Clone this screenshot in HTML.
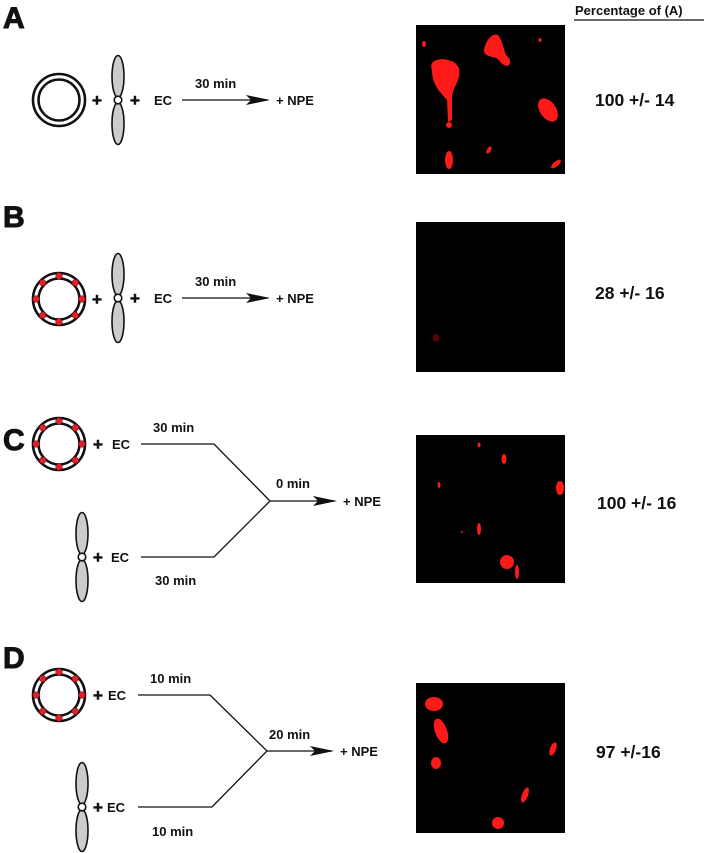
<!DOCTYPE html>
<html><head><meta charset="utf-8"><style>
html,body{margin:0;padding:0;background:#fff;}
svg{display:block;}
text{font-family:"Liberation Sans",Arial,sans-serif;font-weight:bold;fill:#111;}
.big{stroke:#111;stroke-width:1;}
.pl{stroke:#111;stroke-width:0.6;}
</style></head><body>
<svg width="705" height="853" viewBox="0 0 705 853" xmlns="http://www.w3.org/2000/svg">
<defs>
<g id="ring"><circle r="26" fill="none" stroke="#111" stroke-width="2.6"/><circle r="20.5" fill="none" stroke="#111" stroke-width="2.6"/></g>
<g id="ringd"><use href="#ring"/>
<g fill="#e0202a" stroke="#700" stroke-width="0.5">
<circle cx="0" cy="-23" r="3.3"/><circle cx="16.3" cy="-16.3" r="3.3"/><circle cx="23" cy="0" r="3.3"/><circle cx="16.3" cy="16.3" r="3.3"/>
<circle cx="0" cy="23" r="3.3"/><circle cx="-16.3" cy="16.3" r="3.3"/><circle cx="-23" cy="0" r="3.3"/><circle cx="-16.3" cy="-16.3" r="3.3"/></g></g>
<g id="prop"><ellipse cx="0" cy="-23.5" rx="6" ry="21" fill="#ccc" stroke="#111" stroke-width="1.6"/>
<ellipse cx="0" cy="23.5" rx="6" ry="21" fill="#ccc" stroke="#111" stroke-width="1.6"/>
<circle r="3.8" fill="#fff" stroke="#111" stroke-width="1.6"/></g>
<marker id="ah" markerWidth="24" markerHeight="10" refX="22" refY="5" orient="auto" markerUnits="userSpaceOnUse"><path d="M0,0 L24,5 L0,10 L5,5 Z" fill="#111"/></marker>
</defs>

<text x="575" y="15" font-size="13">Percentage of (A)</text>
<line x1="574" y1="20" x2="704" y2="20" stroke="#111" stroke-width="1.2"/>

<!-- A -->
<text class="big" x="3" y="28" font-size="30">A</text>
<use href="#ring" x="59" y="100"/>
<text class="pl" x="92" y="106" font-size="17">+</text>
<use href="#prop" x="118" y="100"/>
<text class="pl" x="130" y="106" font-size="17">+</text>
<text x="154" y="105" font-size="13">EC</text>
<line x1="182" y1="100" x2="268" y2="100" stroke="#111" stroke-width="1.3" marker-end="url(#ah)"/>
<text x="195" y="88" font-size="13">30 min</text>
<text x="276" y="105" font-size="13">+ NPE</text>
<rect x="416" y="25" width="149" height="149" fill="#000"/>
<g fill="#ff1a1a">
<path d="M432,70 C428,60 440,58 448,60 C458,62 462,70 458,80 C455,88 452,90 452,100 L452,120 L448,122 L447,100 C440,92 432,85 432,70 Z"/>
<ellipse cx="424" cy="44" rx="2" ry="3"/>
<path d="M484,50 C486,40 492,33 498,35 C502,40 504,50 506,55 C510,58 512,62 508,66 C502,66 500,60 496,58 C490,56 484,56 484,50 Z"/>
<ellipse cx="540" cy="40" rx="1.5" ry="2"/>
<ellipse cx="548" cy="110" rx="8" ry="13" transform="rotate(-35 548 110)"/><ellipse cx="449" cy="160" rx="4" ry="9"/>
<ellipse cx="489" cy="150" rx="2" ry="4" transform="rotate(30 489 150)"/><ellipse cx="556" cy="164" rx="2.5" ry="6" transform="rotate(50 556 164)"/><ellipse cx="449" cy="125" rx="3" ry="3"/>
</g>
<text x="595" y="106" font-size="17.5">100 +/- 14</text>

<!-- B -->
<text class="big" x="3" y="227" font-size="30">B</text>
<use href="#ringd" x="59" y="299"/>
<text class="pl" x="92" y="305" font-size="17">+</text>
<use href="#prop" x="118" y="298"/>
<text class="pl" x="130" y="304" font-size="17">+</text>
<text x="154" y="303" font-size="13">EC</text>
<line x1="182" y1="298" x2="268" y2="298" stroke="#111" stroke-width="1.3" marker-end="url(#ah)"/>
<text x="195" y="286" font-size="13">30 min</text>
<text x="276" y="303" font-size="13">+ NPE</text>
<rect x="416" y="222" width="149" height="150" fill="#000"/>
<ellipse cx="436" cy="338" rx="3" ry="4" fill="#5a0000"/>
<text x="595" y="299" font-size="17.5">28 +/- 16</text>

<!-- C -->
<text class="big" x="3" y="450" font-size="30">C</text>
<use href="#ringd" x="59" y="444"/>
<text class="pl" x="93" y="450" font-size="17">+</text>
<text x="112" y="449" font-size="13">EC</text>
<use href="#prop" x="82" y="557"/>
<text class="pl" x="93" y="563" font-size="17">+</text>
<text x="111" y="562" font-size="13">EC</text>
<polyline points="141,444 214,444 270,501 214,557 141,557" fill="none" stroke="#111" stroke-width="1.3"/>
<line x1="270" y1="501" x2="335" y2="501" stroke="#111" stroke-width="1.3" marker-end="url(#ah)"/>
<text x="153" y="432" font-size="13">30 min</text>
<text x="276" y="488" font-size="13">0 min</text>
<text x="155" y="585" font-size="13">30 min</text>
<text x="343" y="506" font-size="13">+ NPE</text>
<rect x="416" y="435" width="149" height="148" fill="#000"/>
<g fill="#ff1a1a">
<ellipse cx="479" cy="445" rx="1.5" ry="2.5"/><ellipse cx="504" cy="459" rx="2.5" ry="5"/><ellipse cx="439" cy="485" rx="1.5" ry="3"/>
<ellipse cx="560" cy="488" rx="4" ry="7"/><ellipse cx="479" cy="529" rx="2" ry="6"/><ellipse cx="462" cy="532" rx="1" ry="1"/>
<ellipse cx="507" cy="562" rx="7" ry="7"/><ellipse cx="517" cy="572" rx="2" ry="7"/>
</g>
<text x="597" y="509" font-size="17.5">100 +/- 16</text>

<!-- D -->
<text class="big" x="3" y="668" font-size="30">D</text>
<use href="#ringd" x="59" y="695"/>
<text class="pl" x="93" y="701" font-size="17">+</text>
<text x="108" y="700" font-size="13">EC</text>
<use href="#prop" x="82" y="807"/>
<text class="pl" x="93" y="813" font-size="17">+</text>
<text x="107" y="812" font-size="13">EC</text>
<polyline points="138,695 210,695 267,751 212,807 138,807" fill="none" stroke="#111" stroke-width="1.3"/>
<line x1="267" y1="751" x2="332" y2="751" stroke="#111" stroke-width="1.3" marker-end="url(#ah)"/>
<text x="150" y="683" font-size="13">10 min</text>
<text x="269" y="739" font-size="13">20 min</text>
<text x="152" y="836" font-size="13">10 min</text>
<text x="340" y="756" font-size="13">+ NPE</text>
<rect x="416" y="683" width="149" height="150" fill="#000"/>
<g fill="#ff1a1a">
<ellipse cx="434" cy="704" rx="9" ry="7"/><ellipse cx="441" cy="731" rx="6" ry="13" transform="rotate(-20 441 731)"/>
<ellipse cx="436" cy="763" rx="5" ry="6"/><ellipse cx="553" cy="749" rx="3" ry="7" transform="rotate(20 553 749)"/>
<ellipse cx="525" cy="795" rx="3" ry="8" transform="rotate(20 525 795)"/><ellipse cx="498" cy="823" rx="6" ry="6"/>
</g>
<text x="596" y="758" font-size="17.5">97 +/-16</text>
</svg>
</body></html>
